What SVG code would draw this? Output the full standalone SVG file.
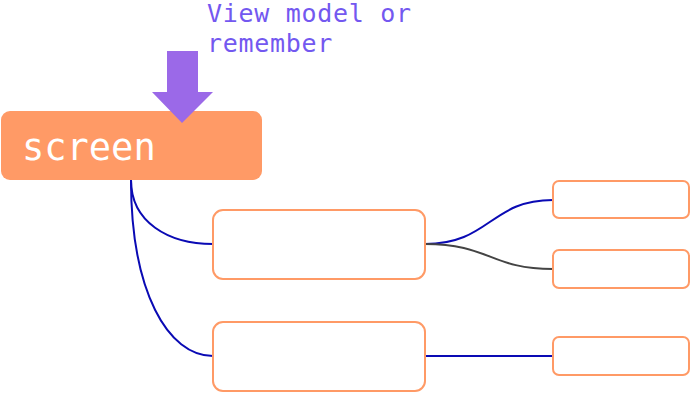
<svg xmlns="http://www.w3.org/2000/svg" width="690" height="394" viewBox="0 0 690 394">
<style>
.box{fill:#fff;stroke:#ff9a66;stroke-width:2}
.c{fill:none;stroke:#0a0ab4;stroke-width:2}
.g{fill:none;stroke:#444;stroke-width:2}
.mono{font-family:"DejaVu Sans Mono","Liberation Mono",monospace}
</style>
<rect width="690" height="394" fill="#fff"/>
<g id="connectors">
<path class="c" d="M131,180 C131,222 168,244 213,244"/>
<path class="c" d="M131,180 C131,292 168,356 213,356"/>
<path class="c" d="M425,244 C490,244 490,200 553,200"/>
<path class="g" d="M425,244 C490,244 490,269 553,269"/>
<path class="c" d="M425,356 L553,356"/>
</g>
<g id="screen">
<rect x="1" y="111" width="261" height="69" rx="9" fill="#ff9a66"/>
<text x="22" y="160" class="mono" font-size="37" fill="#fff">screen</text>
</g>
<g id="note">
<text class="mono" font-size="25" letter-spacing="0.7" fill="#7358f0"><tspan x="207" y="22">View model or</tspan><tspan x="207" y="52">remember</tspan></text>
</g>
<g id="arrow">
<polygon points="167,51 198,51 198,92 213,92 182,123 152,92 167,92" fill="#9b69e8"/>
</g>
<g id="node1"><rect class="box" x="213" y="210" width="212" height="69" rx="10"/></g>
<g id="node2"><rect class="box" x="213" y="322" width="212" height="69" rx="10"/></g>
<g id="node3"><rect class="box" x="553" y="181" width="136" height="37" rx="6"/></g>
<g id="node4"><rect class="box" x="553" y="250" width="136" height="38" rx="6"/></g>
<g id="node5"><rect class="box" x="553" y="337" width="136" height="38" rx="6"/></g>
</svg>
